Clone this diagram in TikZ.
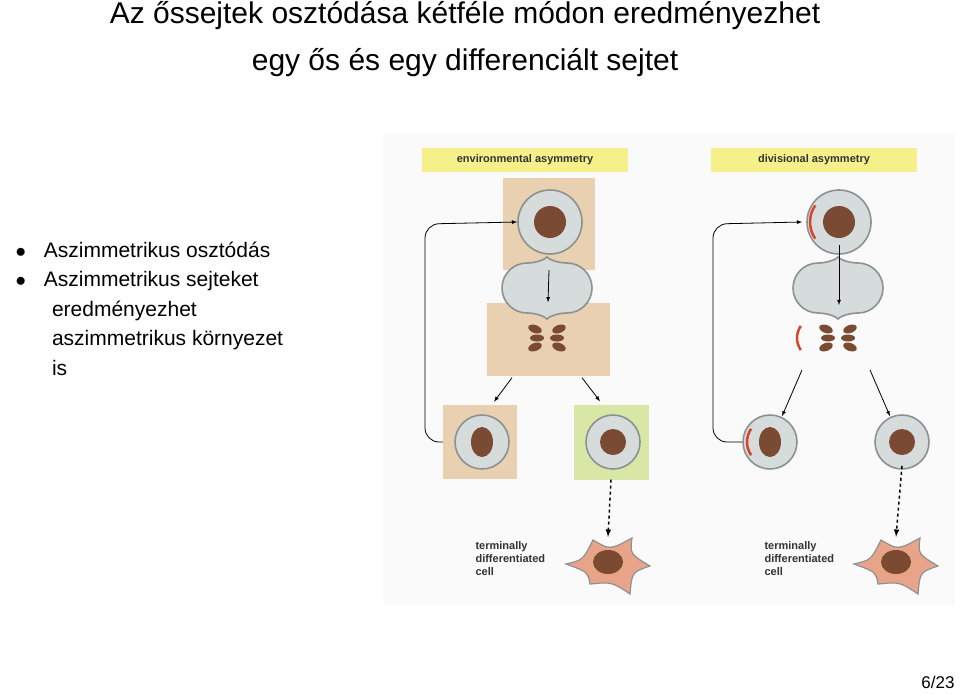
\documentclass[tikz,border=0pt]{standalone}
\usepackage{fontspec}
\setmainfont{Liberation Sans}
\usetikzlibrary{positioning}
\definecolor{tan}{HTML}{E9D0B0}
\definecolor{lime}{HTML}{D8E6A6}
\definecolor{cyto}{HTML}{D5DCDB}
\definecolor{rim}{HTML}{8C9291}
\definecolor{nuc}{HTML}{7A4A33}
\definecolor{lab}{HTML}{F6F08A}
\definecolor{term}{HTML}{E8A488}
\definecolor{polecol}{HTML}{D8432C}
\tikzset{
  cell/.style={draw=rim, fill=cyto, line width=1.6pt, circle, minimum size=64pt, inner sep=0pt},
  smallcell/.style={cell, minimum size=54pt},
  box/.style={fill=#1, inner sep=0pt},
  tag/.style={fill=lab, minimum width=206pt, minimum height=24pt, font=\bfseries\fontsize{11}{13}\selectfont, text=black!80},
  arr/.style={-latex, thick},
  pole/.style={draw=polecol, line width=2.5pt},
}
\newcommand{\chromo}[2][1]{%
  \begin{scope}[shift={(#2)}, xscale=#1]
  \fill[nuc] (-2,-9) ellipse[x radius=7pt, y radius=4pt, rotate=-20];
  \fill[nuc] (0,0) ellipse[x radius=7pt, y radius=3.5pt];
  \fill[nuc] (-2,9) ellipse[x radius=7pt, y radius=4pt, rotate=20];
  \end{scope}}
\newcommand{\divcell}[1]{%
  \draw[rim, fill=cyto, line width=1.6pt] (#1)
    ++(0,-19) .. controls +(4,-4) and +(-6,0) .. ++(20,-6)
    arc[start angle=90, end angle=-90, radius=25]
    .. controls +(-6,0) and +(4,4) .. ++(-20,-6)
    .. controls +(-4,4) and +(6,0) .. ++(-20,6)
    arc[start angle=-90, end angle=-270, radius=25]
    .. controls +(6,0) and +(-4,-4) .. cycle;}
\newcommand{\termcell}[1]{%
  \draw[rim, fill=term, line width=1.2pt, shift={(#1)}]
    (-42,2) .. controls (-25,-2) .. (-15,-22) .. controls (2,-12) .. (24,-24)
    .. controls (22,-8) .. (42,4) .. controls (24,10) .. (22,32)
    .. controls (4,20) .. (-18,22) .. controls (-20,10) .. cycle;
  \fill[nuc, shift={(#1)}] (0,0) ellipse[x radius=15pt, y radius=12pt];}
\begin{document}
\begin{tikzpicture}[x=1pt, y=-1pt]
\useasboundingbox (0,0) rectangle (960,694);
\fill[black!2] (383,133) rectangle (955,605);

% title and bullets
\node[font=\fontsize{30}{34}\selectfont] (title) at (465,16) {Az őssejtek osztódása kétféle módon eredményezhet};
\node[font=\fontsize{30}{34}\selectfont] (title2) at (465,63) {egy ős és egy differenciált sejtet};
\node[anchor=north west, align=left, font=\fontsize{21}{29.5}\selectfont] (bul) at (12,238)
  {$\bullet$\hspace{18pt}Aszimmetrikus osztódás\\
   $\bullet$\hspace{18pt}Aszimmetrikus sejteket\\
   \hspace{36.5pt}eredményezhet\\
   \hspace{36.5pt}aszimmetrikus környezet\\
   \hspace{36.5pt}is};
\node[anchor=south east, font=\fontsize{17}{20}\selectfont] (page) at (958,692) {6/23};

% environmental asymmetry
\node[tag] (envtag) at (525,160) {environmental asymmetry};
\node[box=tan, minimum size=92pt] (e1box) at (549,224) {};
\node[cell] (e1) at (550,222) {};
\fill[nuc] (e1) circle[radius=16pt];
\node[box=tan, minimum width=123pt, minimum height=73pt] (e2box) at (548,339) {};
\divcell{547,338}
\chromo{537,338}
\chromo[-1]{557,338}
\node[box=tan, minimum size=74pt] (e3box) at (480,442) {};
\node[smallcell] (e3) at (482,442) {};
\fill[nuc] (e3) ellipse[x radius=11pt, y radius=15pt];
\node[box=lime, minimum size=75pt] (e4box) at (611,442) {};
\node[smallcell] (e4) at (613,442) {};
\fill[nuc] (e4) circle[radius=13pt];
\node[font=\bfseries\fontsize{11}{13}\selectfont, align=left, text=black!80, anchor=north west] (etext) at (472,538) {terminally\\differentiated\\cell};
\node[inner sep=0pt, minimum size=50pt] (e5) at (608,562) {};
\termcell{608,562}

\draw[arr] (e1box.south) -- (e2box.north);
\draw[arr] ([xshift=-36pt, yshift=-2pt]e2box.south) -- ([xshift=14pt, yshift=3pt]e3box.north);
\draw[arr] ([xshift=34pt, yshift=-2pt]e2box.south) -- ([xshift=-11pt, yshift=3pt]e4box.north);
\draw[arr, dashed, line width=1.5pt] (e4box.south) -- (e5.north);
\draw[arr, rounded corners=14pt] (e3box.west) -- (425,442) -- (425,224) -- (e1.west);

% divisional asymmetry
\node[tag] (divtag) at (814,160) {divisional asymmetry};
\node[cell] (d1) at (839,222) {};
\fill[nuc] (d1) circle[radius=16pt];
\draw[pole] (d1) ++(145:29) arc[start angle=145, end angle=215, radius=29];
\divcell{838,338}
\draw[pole] (818,338) ++(145:21) arc[start angle=145, end angle=215, radius=21];
\chromo{828,338}
\chromo[-1]{848,338}
\coordinate (d2n) at (839,305);
\coordinate (d2s) at (839,370);
\node[smallcell] (d3) at (770,442) {};
\fill[nuc] (d3) ellipse[x radius=11pt, y radius=15pt];
\draw[pole] (d3) ++(145:23) arc[start angle=145, end angle=215, radius=23];
\node[smallcell] (d4) at (902,442) {};
\fill[nuc] (d4) circle[radius=13pt];
\node[font=\bfseries\fontsize{11}{13}\selectfont, align=left, text=black!80, anchor=north west] (dtext) at (761,538) {terminally\\differentiated\\cell};
\node[inner sep=0pt, minimum size=50pt] (d5) at (896,562) {};
\termcell{896,562}

\draw[arr] ([yshift=10pt]d1.south) -- (d2n);
\draw[arr] ([xshift=-37pt]d2s) -- ([xshift=12pt, yshift=-2pt]d3.north);
\draw[arr] ([xshift=31pt]d2s) -- ([xshift=-12pt, yshift=-2pt]d4.north);
\draw[arr, dashed, line width=1.5pt] ([yshift=4pt]d4.south) -- (d5.north);
\draw[arr, rounded corners=14pt] (d3.west) -- (713,442) -- (713,224) -- ([xshift=-4pt]d1.west);
\end{tikzpicture}
\end{document}
